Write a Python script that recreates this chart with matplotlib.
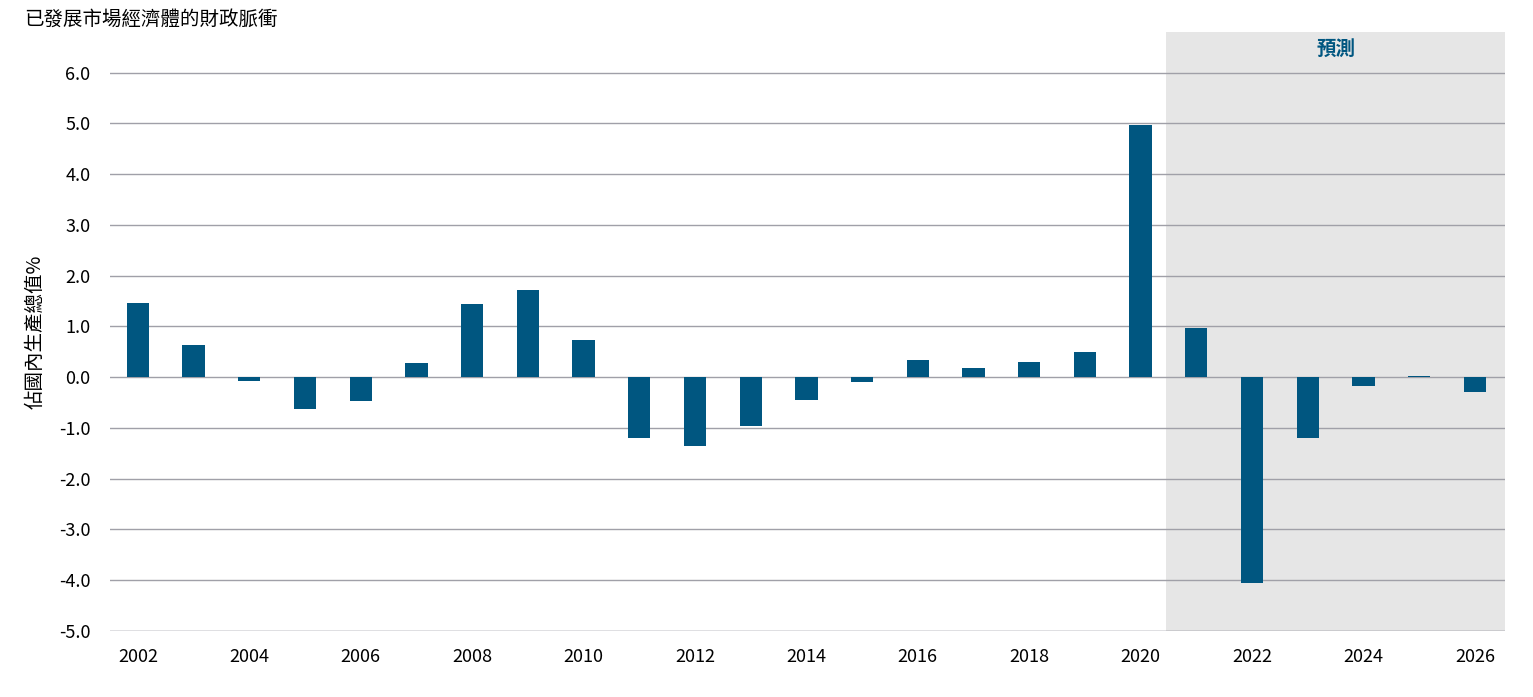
import matplotlib
matplotlib.use("Agg")
import matplotlib.pyplot as plt

plt.rcParams['font.family'] = ['Noto Sans CJK TC', 'DejaVu Sans']

years = list(range(2002, 2027))
values = [1.47, 0.63, -0.07, -0.63, -0.47, 0.28, 1.45, 1.72, 0.73, -1.2, -1.36, -0.97,
          -0.45, -0.09, 0.34, 0.18, 0.29, 0.49, 4.97, 0.96, -4.05, -1.2, -0.17, 0.02, -0.29]
yticks = [6.0, 5.0, 4.0, 3.0, 2.0, 1.0, 0.0, -1.0, -2.0, -3.0, -4.0, -5.0]
xticks = list(range(2002, 2027, 2))

fig = plt.figure(figsize=(15.33, 6.97), dpi=100)
ax = fig.add_axes([0.0718, 0.0947, 0.9099, 0.8593])
ax.set_xlim(2001.5, 2026.54)
ax.set_ylim(-5, 6.8)
ax.axvspan(2020.46, 2026.54, color='#e6e6e6', zorder=0, lw=0)
ax.text(2023.5, 6.45, '預測', color='#005680', fontsize=14, fontweight='bold', ha='center', va='center')
for t in yticks:
    ax.axhline(t, color='#a0a0a8' if t != -5 else '#606070', lw=1, zorder=1)
ax.bar(years, values, width=0.4, color='#005680', zorder=3)
ax.set_yticks(yticks)
ax.set_yticklabels([f'{v:.1f}' for v in yticks], fontsize=13)
ax.set_xticks(xticks)
ax.set_xticklabels([str(x) for x in xticks], fontsize=13)
ax.tick_params(length=0, pad=12)
ax.tick_params(axis='y', pad=14)
for s in ax.spines.values():
    s.set_visible(False)
ax.set_ylabel('佔國內生產總值%', fontsize=14, labelpad=10)
fig.text(0.016, 0.972, '已發展市場經濟體的財政脈衝', fontsize=14, ha='left', va='center')
fig.savefig('out.png', dpi=100)
